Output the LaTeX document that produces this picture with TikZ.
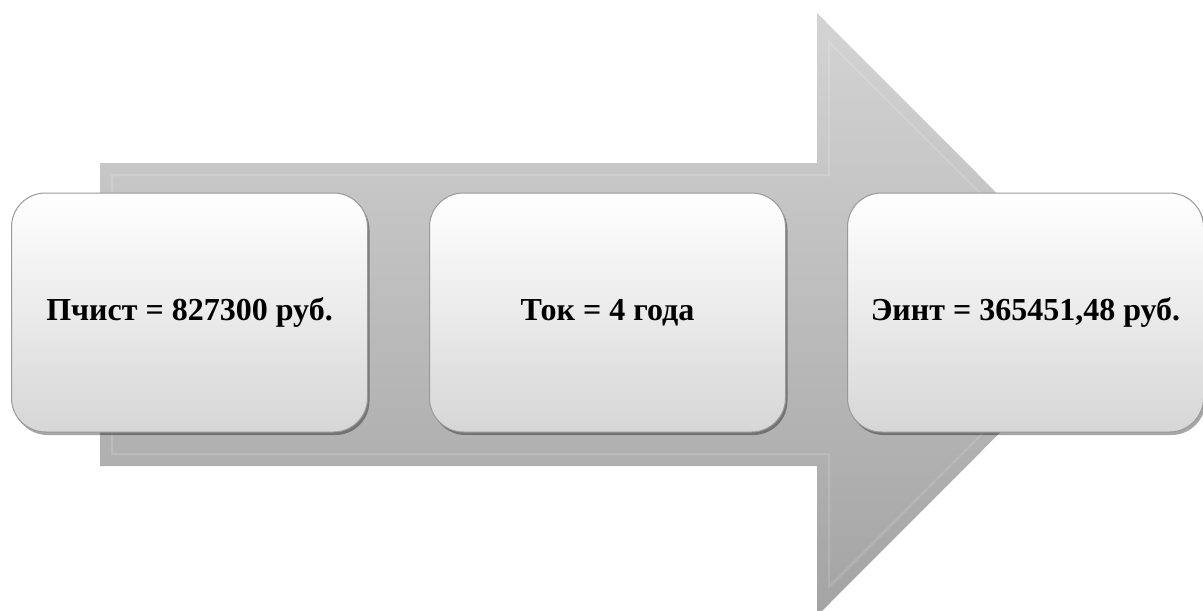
\documentclass[tikz,border=0pt]{standalone}
\usepackage{fontspec}
\setmainfont{Liberation Serif}
\usetikzlibrary{positioning,shadows}

\begin{document}
\begin{tikzpicture}[x=0.5pt, y=-0.5pt,
    calc box/.style={draw=black!40, line width=0.5pt, rounded corners=17pt,
      minimum width=178pt, minimum height=119.5pt, align=center,
      top color=white, middle color=white, bottom color=black!16,
      drop shadow={shadow xshift=1pt, shadow yshift=-1.5pt, fill=black, opacity=.35},
      font=\fontsize{16pt}{19pt}\selectfont\bfseries},
    node distance=30.5pt]
    \useasboundingbox (0,0) rectangle (1203,610);
    \clip (0,0) rectangle (1203,610);

    % big arrow behind the boxes
    \path[top color=black!17, bottom color=black!36]
      (100,163) -- (817,163) -- (817,13) -- (1118,314.5) -- (817,616) -- (817,466) -- (100,466) -- cycle;
    \draw[white, opacity=.15, line width=1pt]
      (112,175) -- (829,175) -- (829,42) -- (1101.5,314.5) -- (829,587) -- (829,454) -- (112,454) -- cycle;

    \node[calc box, anchor=west] (pchist) at (11,312.5) {Пчист = 827300 руб.};
    \node[calc box, right=of pchist] (tok) {Ток = 4 года};
    \node[calc box, right=of tok] (eint) {Эинт = 365451,48 руб.};
\end{tikzpicture}
\end{document}
